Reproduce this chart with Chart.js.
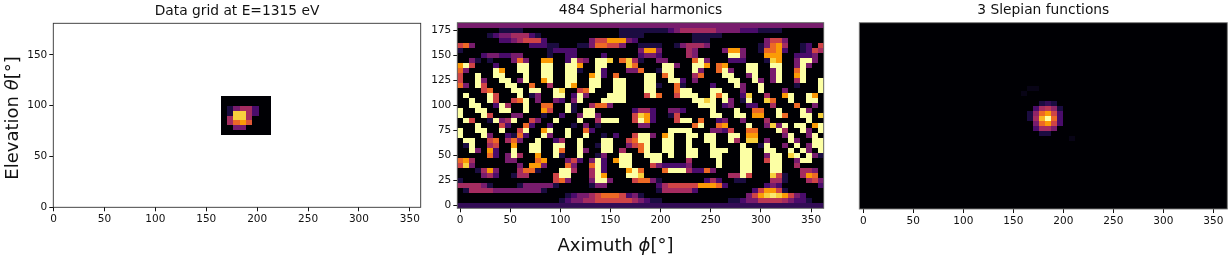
<!DOCTYPE html>
<html>
<head>
<meta charset="utf-8">
<title>Data grid, spherical harmonics and Slepian functions</title>
<script src="https://cdn.jsdelivr.net/npm/chart.js@4"></script>
<style>
    html, body { margin: 0; padding: 0; background: #fff; }
    #figure { position: relative; width: 1232px; height: 259px; overflow: hidden; filter: blur(0.3px); }
    canvas { position: absolute; top: 0; }
</style>
</head>
<body>
<div id="figure">
    <canvas id="dataGridChart" width="430" height="259" style="left:0"></canvas>
    <canvas id="harmonicsChart" width="410" height="259" style="left:430px"></canvas>
    <canvas id="slepianChart" width="392" height="259" style="left:840px"></canvas>
</div>
<script>
// --- Textos ---
const panelTitles = ['Data grid at E=1315 eV', '484 Spherial harmonics', '3 Slepian functions'];

// --- Ticks ---
const phiTicks = [0, 50, 100, 150, 200, 250, 300, 350];
const thetaTicksData = [0, 50, 100, 150];
const thetaTicksHarmonics = [0, 25, 50, 75, 100, 125, 150, 175];

// inferno, nivel 0 a 9
const infernoLevels = ['#000004', '#1b0c41', '#4a0c6b', '#781c6d', '#a52c60', '#cf4446', '#ed6925', '#fb9b06', '#f7d13d', '#fcffa4'];

// --- Painel 1: grade medida (linhas de cima para baixo) ---
const dataGridPhiEdges = [164, 170.25, 176.5, 182.75, 189, 195.25, 201.5, 207.75, 214];
const dataGridThetaEdges = [109, 104.25, 99.5, 95, 90, 85.5, 81, 76, 71];
const dataGridRows = [
    [0, 0, 0, 0, 0, 0, 0, 0],
    [0, 0, 0, 0, 0, 0, 0, 0],
    [0, 1, 3, 4, 4, 2, 0, 0],
    [0, 1, 8, 8, 4, 2, 0, 0],
    [0, 4, 8, 8, 4, 0, 0, 0],
    [0, 4, 6, 7, 5.5, 0, 0, 0],
    [0, 0, 3, 3, 0, 0, 0, 0],
    [0, 0, 0, 0, 0, 0, 0, 0]
];

// --- Painel 2: 61 colunas (6 graus) x 37 linhas (5 graus), "coluna:nivel", o resto é zero ---
const harmonicsRows = [
    '0-60:3',
    '7-10:1 27-34:1 35:2 36:3 37-42:4 43-46:3 47-49:2 50-53:1',
    '5:1 6:2 7-8:3 9-11:4 12:2 13:1 27-30:1 39-43:1',
    '7-8:2 9:3 10:4 11-13:5 14:2 22:3 23-24:5 25-27:7 28:3 29:2 39-41:1 51:3 52-53:5 54:3',
    '0:5 1:6 2:3 12-14:2 15-16:1 20-21:1 22:3 23-24:6 25-26:5 27:3 30-33:1 36:1 37:3 38-40:4 41:3 50:1 51:3 52:6 53:7 54:4 57:1 58:2 60:5',
    '0:1 15:1 16-19:2 30:3 31-32:7 33:3 38:4 39:3 44:3 45-46:7 47:3 50:1 51-52:6 53:7 54:2 57:1 58:2 59:5 60:4',
    '4:2 5-6:3 7-8:2 9-10:3 15:1 18-19:2 24:2 30:2 31-32:3 33:2 38:4 39:3 45-46:9 47:3 51-53:7 56-58:2 59:3',
    '2:3 3:1 5:1 9:3 10:6 11:3 14-15:7 18:2 19:9 20:4 21:3 23-24:9 25:8 27:6 28:8 29:4 30:1 33-34:3 39:6 40:9 41:3 45-47:2 51:1 52:8 53:7 56:3 57-58:9 59:3',
    '0:7 1:9 2:5 6:2 10-11:9 14-15:9 18-19:9 20:7 23-24:9 28:8 29:6 34-35:9 36:3 39-40:9 41:7 43:6 44:7 48-49:9 52-53:9 56:3 57:9 58:3',
    '0:6 1:3 6:9 7:7 10-11:9 14-15:9 18-19:9 20:1 23:9 24:2 28-29:3 30:6 33:1 34-35:9 39:9 40:3 43:6 44:9 45:3 48-49:9 52:3 53:9 56:6 57:9',
    '0:5 3:9 6-7:9 11:9 14-15:9 18-19:9 22:7 23:9 24:2 26:6 31-32:9 34:6 35:9 39:4 40:6 44-45:9 48:3 49:9 52:3 53:9 56:7 57:9',
    '0:5 3:9 4:3 7-8:9 10:3 11:9 14:7 15:9 18-19:9 22-23:9 26-27:9 31-32:9 35-36:9 37:2 39:3 45-46:9 49:9 50:3 52:3 53:9 56:4 57:9 60:9',
    '0:6 1:3 3:9 4:5 8-9:9 12:6 15:4 18:9 19:7 22-23:9 26-27:9 31-32:9 33:1 36:6 37:1 42:2 46:9 47:3 50:9 56:1 60:9',
    '4:5 5:6 9-10:9 12-13:9 16:9 17:8 20:5 21:6 22:9 26-27:9 31-32:9 36:6 37-38:9 42-43:9 47:3 50:9 54:3 60:9',
    '1:9 5:9 6:5 10:9 12:1 13:3 16-17:9 19:2 20:9 21:3 25-27:9 31:5 32:9 33:6 36:5 37-39:9 42:9 43:6 44:9 47:2 48:8 51:4 54:7 55:9 58:9 59:7',
    '2:9 5:9 6:5 9:5 10:6 11:9 13:3 16:3 17:2 19:3 20:9 24-27:9 39-40:9 41:8 42:9 44:9 45:3 47:1 48:9 51:8 52:6 55:9 58-59:9',
    '2-3:9 6:2 7:9 8:4 11:9 14-15:6 18:9 19:1 22:4 23-24:6 25:3 40-41:9 42:9 44:2 45:3 48-49:2 52:4 56:6 59:3',
    '0:9 3-4:9 7-8:9 11:9 14:7 15:5 18:9 19:1 21-22:9 29:2 30-31:4 32:2 35-36:3 37:2 42:9 46:9 49-50:6 53:9 57:9 58:3',
    '0:9 4:9 5:5 9-10:3 14:1 17:2 20:3 21-22:9 23:3 29:5 30:8 31:7 32:2 35:1 36:5 42-43:9 46-47:9 49-50:7 53:9 54:6 57-58:9 60:8',
    '1:9 2:5 5:1 6:9 7:3 8:4 9:9 12:5 13:3 16:9 20:9 23:4 24-26:9 29:5 30:9 31:7 32:2 36:5 37-38:9 40:6 43:2 44:3 47:3 51:4 58:9',
    '3:9 7:5 8:2 11:6 12:2 15:2 19:1 21:3 23:1 30-31:3 39:6 40:9 43:6 44:7 48:9 51:3 52:8 53:3 54:9 56-57:9 59:7 60:9',
    '0:9 3-4:9 7:9 10:5 11:9 14:7 15:9 18:9 21:6 22:2 35-38:9 42-43:3 44:2 45:5 48-49:6 53:9 54:4 57:9 58:3 60:9',
    '0:9 4:9 5:3 8:2 9:1 10:6 11:2 14:9 15:3 18:9 21:9 24:1 26:2 29:5 30-31:9 32:3 34:7 35:9 38-39:9 41-42:9 45-46:9 48-49:7 54:3 55:9 58:3 59:9',
    '1-2:9 5:5 6:6 8:4 9:6 10:3 13:9 16:2 17:4 20:9 24-25:9 28:5 29:6 30-31:9 34-35:9 38:9 41-42:9 45:9 46:4 48-49:8 51:3 55:9 56:3 59-60:9',
    '1:1 2:9 5:4 6:5 9:7 12-13:9 16-17:9 20:9 23:1 24-25:9 28:3 29:5 30:6 31:9 34-35:9 38:9 42:9 47:9 50:1 51:9 54:3 56:9 58:3 59-60:9',
    '2:9 3:3 5:7 6:2 9:9 12-13:9 16:9 17:6 20:9 21:3 24-25:9 27:4 30:6 31:9 34-35:9 38-39:9 42-44:9 47-48:9 51-52:9 55:9 57:9 58:3 60:9',
    '5:6 6:2 8:3 9:9 10:4 13:7 16:9 17:1 20:9 23:1 24:3 27-28:9 31-33:9 35:9 38-39:9 42-43:9 47-48:9 51:3 52-53:9 55:8 56:9 58:9 59:3 60:1',
    '0:6 1:7 2:4 8-9:3 13:6 14:7 18:3 19:5 20:2 22:3 23:9 24:2 26:7 27-28:9 32-33:9 38:4 43:9 47-48:9 51:5 52-53:9 56:3 57-58:9',
    '0:5 1:8 2:3 10:3 12-13:7 14:3 18:6 19:3 22:6 23:9 24:2 27-28:9 32:5 33:3 34-37:2 38:3 43:9 47-48:9 52-53:9 56:4',
    '3:1 4:4 5:7 6:3 10:4 11-12:6 13:1 17-18:9 19:4 22:4 23:9 24:2 28:7 29:9 30:6 34:6 35-37:9 38:4 39-40:2 41:6 42:3 47-48:9 52-53:9 57-58:4 59:3',
    '4:3 5:4 6:2 9:1 10-11:4 16:5 17-18:9 22:4 23:9 24:7 28:9 29:9 30:8 45-46:4 47:9 48:5 52:8 53:5 54:1 57:4 58:7 59:6',
    '0:1 16:5 17:6 18:3 22:3 23-24:9 25:3 29:5 30-31:6 32:3 33:1 41:2 42:4 43:2 46-47:1 52-53:4 54:1 58:4 59:5 60:3',
    '0-3:4 4:3 5:1 10:1 11-15:3 16:1 22:1 23-24:3 33:2 34:4 35-39:5 40-42:7 43:6 44:2 51:2 52:3 53:2 60:2',
    '1:1 2-5:4 6:3 7-13:3 14:1 33:1 34-38:4 39:2 49:2 50:5 51-52:7 53:5 54:1',
    '18:1 19:2 20-21:3 22:4 23:5 24-26:6 27:5 28:2 29:3 30:1 48:3 49:5 50:7 51:8 52:8.5 53:8 54:7 55:5 56:3 57:2',
    '17:1 18:2 19-20:3 21-22:4 23-28:5 29:4 30:3 31:2 32-33:1 45-46:1 47:2 48-49:3 50-53:4.5 54:4 55:3 56-57:2 58:1',
    '0-60:1.5'
];

// --- Painel 3: mesma grade, linha 36 em cima ---
const slepianRows = {
    23: '27-28:0.3',
    22: '26:0.3',
    20: '29:1 30:1.5 31:1',
    19: '28:2 29:4 30:4.5 31:3.5 32:1',
    18: '27:1 28:3.5 29:6 30:7 31:5 32:2',
    17: '27:1 28:4 29:7.5 30:9 31:6 32:2',
    16: '28:3 29:6 30:7 31:5 32:2',
    15: '28:2 29-30:4 31:3',
    14: '29-30:1',
    13: '34:0.3'
};

function hexToRgb(hex) {
    return [1, 3, 5].map(i => parseInt(hex.slice(i, i + 2), 16));
}

function levelColor(level) {
    const low = Math.floor(level);
    const high = Math.min(low + 1, infernoLevels.length - 1);
    const a = hexToRgb(infernoLevels[low]);
    const b = hexToRgb(infernoLevels[high]);
    const t = level - low;
    const mix = a.map((c, i) => Math.round(c + (b[i] - c) * t));
    return `rgb(${mix[0]}, ${mix[1]}, ${mix[2]})`;
}

function parseRow(text, count) {
    const row = new Array(count).fill(0);
    text.split(' ').forEach(run => {
        const [span, level] = run.split(':');
        const [start, end] = span.split('-').map(Number);
        for (let i = start; i <= (end === undefined ? start : end); i++) {
            row[i] = Number(level);
        }
    });
    return row;
}

function dataGridCells() {
    const cells = [];
    dataGridRows.forEach((row, r) => row.forEach((v, c) => {
        cells.push({
            x: dataGridPhiEdges[c], y: dataGridThetaEdges[r + 1],
            x2: dataGridPhiEdges[c + 1], y2: dataGridThetaEdges[r], v
        });
    }));
    return cells;
}

function harmonicsCells() {
    const cells = [];
    harmonicsRows.forEach((text, r) => {
        const j = 36 - r;
        parseRow(text, 61).forEach((v, k) => {
            cells.push({ x: 6 * k - 3, y: 5 * j - 2.5, x2: 6 * k + 3, y2: 5 * j + 2.5, v });
        });
    });
    return cells;
}

function slepianCells() {
    const cells = [];
    for (let j = -1; j <= 36; j++) {
        const row = slepianRows[j] ? parseRow(slepianRows[j], 61) : new Array(61).fill(0);
        for (let k = -1; k <= 60; k++) {
            const v = k >= 0 ? row[k] : 0;
            cells.push({ x: 2 + 6 * k, y: 5 * j, x2: 8 + 6 * k, y2: 5 * j + 5, v });
        }
    }
    return cells;
}

// Desenha as células pelas escalas do gráfico
const cellPlugin = {
    id: 'cells',
    beforeDatasetsDraw(chart) {
        const { ctx, chartArea: area, scales: { x, y } } = chart;
        ctx.save();
        ctx.beginPath();
        ctx.rect(area.left, area.top, area.right - area.left, area.bottom - area.top);
        ctx.clip();
        chart.data.datasets[0].data.forEach(cell => {
            const left = Math.round(x.getPixelForValue(cell.x));
            const right = Math.round(x.getPixelForValue(cell.x2));
            const top = Math.round(y.getPixelForValue(cell.y2));
            const bottom = Math.round(y.getPixelForValue(cell.y));
            ctx.fillStyle = levelColor(cell.v);
            ctx.fillRect(left, top, right - left, bottom - top);
        });
        ctx.restore();
    }
};

const framePlugin = {
    id: 'frame',
    afterDraw(chart) {
        const { ctx, chartArea: area } = chart;
        ctx.save();
        ctx.strokeStyle = chart.options.plugins.frame.color;
        ctx.lineWidth = 0.9;
        ctx.strokeRect(area.left, area.top, area.right - area.left, area.bottom - area.top);
        ctx.restore();
    }
};

// Rótulos com parte em itálico (theta, phi)
function drawMixedLabel(ctx, parts, cx, cy, rotated) {
    const size = 18;
    const fontFor = p => `${p.italic ? 'italic ' : ''}${size}px "DejaVu Sans"`;
    let total = 0;
    parts.forEach(p => { ctx.font = fontFor(p); total += ctx.measureText(p.text).width; });
    ctx.save();
    ctx.translate(cx, cy);
    if (rotated) ctx.rotate(-Math.PI / 2);
    ctx.fillStyle = '#111';
    ctx.textBaseline = 'alphabetic';
    ctx.textAlign = 'left';
    let pos = -total / 2;
    parts.forEach(p => {
        ctx.font = fontFor(p);
        ctx.fillText(p.text, pos, 0);
        pos += ctx.measureText(p.text).width;
    });
    ctx.restore();
}

const labelPlugin = {
    id: 'axisLabels',
    afterDraw(chart) {
        const label = chart.options.plugins.axisLabels;
        if (label.parts) drawMixedLabel(chart.ctx, label.parts, label.x, label.y, label.rotated);
    }
};

function createPanel(canvasId, cfg) {
    const axisFont = { family: 'DejaVu Sans', size: 10.5 };
    return new Chart(document.getElementById(canvasId), {
        type: 'scatter',
        data: { datasets: [{ data: cfg.cells, pointRadius: 0, pointHoverRadius: 0 }] },
        plugins: [cellPlugin, framePlugin, labelPlugin],
        options: {
            responsive: false,
            animation: false,
            events: [],
            layout: { padding: { left: 0, top: 0, bottom: 0, right: cfg.paddingRight } },
            plugins: {
                legend: { display: false },
                tooltip: { enabled: false },
                frame: { color: cfg.frameColor },
                axisLabels: cfg.label || {},
                title: {
                    display: true,
                    fullSize: false,
                    text: cfg.title,
                    color: '#111',
                    font: { family: 'DejaVu Sans', size: 13.8, weight: 'normal', lineHeight: 1.2 },
                    padding: { top: cfg.top - 20.56, bottom: 4 }
                }
            },
            scales: {
                x: {
                    type: 'linear',
                    min: cfg.xMin,
                    max: cfg.xMax,
                    afterFit: s => { s.height = 259 - cfg.bottom; },
                    afterBuildTicks: s => { s.ticks = phiTicks.map(value => ({ value })); },
                    grid: { drawOnChartArea: false, drawTicks: true, tickLength: 4, tickColor: '#111' },
                    border: { display: false },
                    ticks: { color: '#111', font: axisFont, padding: 2, maxRotation: 0, autoSkip: false }
                },
                y: {
                    type: 'linear',
                    min: cfg.yMin,
                    max: cfg.yMax,
                    afterFit: s => { s.width = cfg.axisWidth; },
                    afterBuildTicks: s => { s.ticks = cfg.yTicks.map(value => ({ value })); },
                    grid: { drawOnChartArea: false, drawTicks: cfg.yTicks.length > 0, tickLength: 4, tickColor: '#111' },
                    border: { display: false },
                    ticks: { display: cfg.yTicks.length > 0, color: '#111', font: axisFont, padding: 2, autoSkip: false }
                }
            }
        }
    });
}

createPanel('dataGridChart', {
    title: panelTitles[0], cells: dataGridCells(), paddingRight: 9.3, axisWidth: 53.3,
    top: 23.3, bottom: 207.3, xMin: -0.3, xMax: 360.7, yMin: 0, yMax: 181, yTicks: thetaTicksData,
    frameColor: '#333',
    label: {
        parts: [{ text: 'Elevation ' }, { text: 'θ', italic: true }, { text: '[°]' }],
        x: 18, y: 118, rotated: true
    }
});

createPanel('harmonicsChart', {
    title: panelTitles[1], cells: harmonicsCells(), paddingRight: 16.3, axisWidth: 27.3,
    top: 22.7, bottom: 208.3, xMin: -2.7, xMax: 362.6, yMin: -2.6, yMax: 182.6, yTicks: thetaTicksHarmonics,
    frameColor: '#555',
    label: {
        parts: [{ text: 'Aximuth ' }, { text: 'ϕ', italic: true }, { text: '[°]' }],
        x: 185.5, y: 251, rotated: false
    }
});

createPanel('slepianChart', {
    title: panelTitles[2], cells: slepianCells(), paddingRight: 4.7, axisWidth: 19.3,
    top: 22.7, bottom: 209, xMin: -4, xMax: 364, yMin: -3.3, yMax: 183, yTicks: [],
    frameColor: '#777'
});
</script>
</body>
</html>
